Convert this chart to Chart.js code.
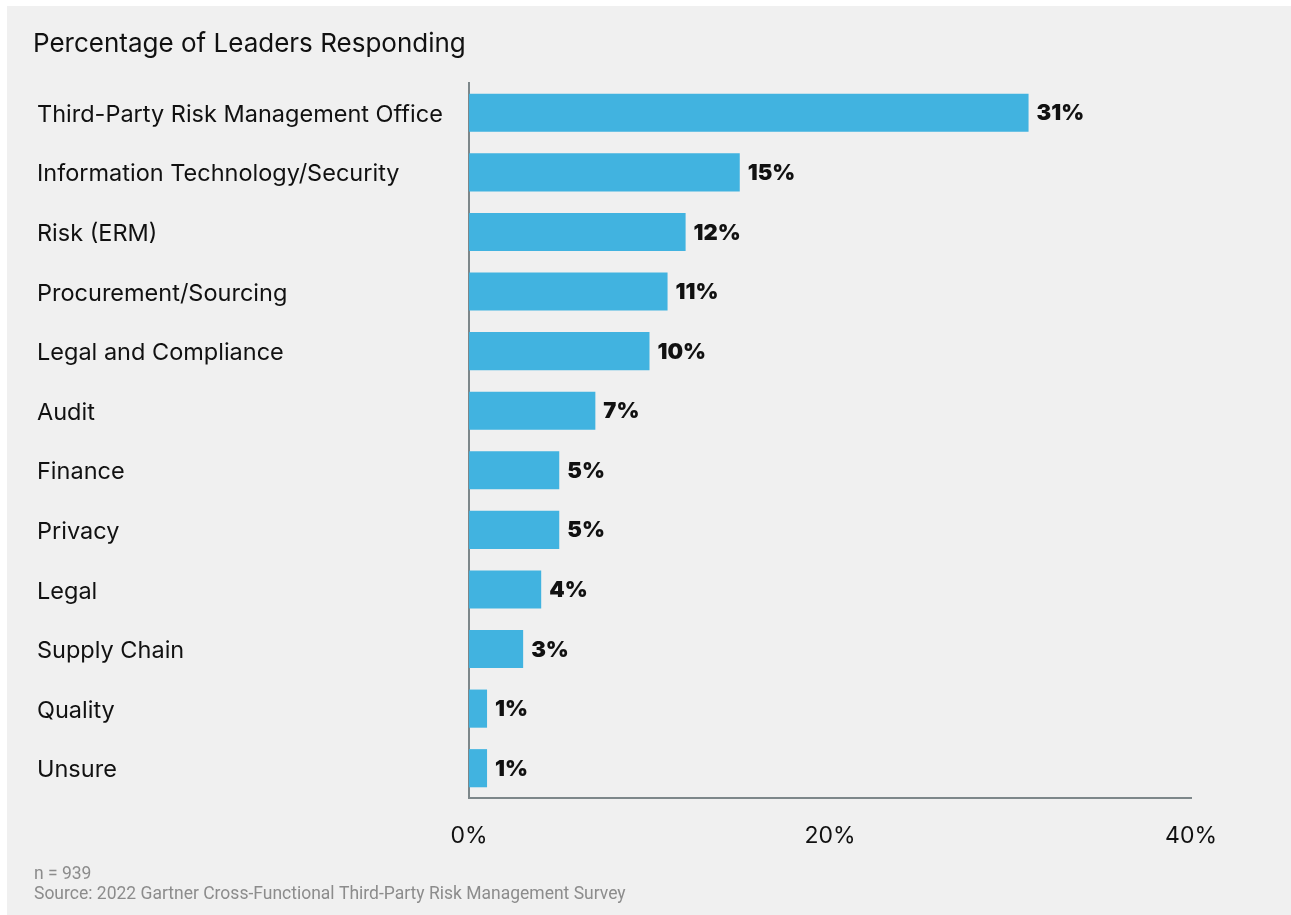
<!DOCTYPE html>
<html>
<head>
<meta charset="utf-8">
<script src="https://cdn.jsdelivr.net/npm/chart.js@4.4.1/dist/chart.umd.min.js"></script>
<style>
  html, body { margin: 0; padding: 0; background: #fff; }
  #panel { position: absolute; left: 7px; top: 6px; width: 1284px; height: 909px; background: #f0f0f0; }
  canvas { display: block; }
</style>
</head>
<body>
<div id="panel"><canvas id="chart" width="1284" height="909"></canvas></div>
<script>
const categories = [
  "Third-Party Risk Management Office",
  "Information Technology/Security",
  "Risk (ERM)",
  "Procurement/Sourcing",
  "Legal and Compliance",
  "Audit",
  "Finance",
  "Privacy",
  "Legal",
  "Supply Chain",
  "Quality",
  "Unsure"
];
const shares = [31, 15, 12, 11, 10, 7, 5, 5, 4, 3, 1, 1];
const xTicks = [0, 20, 40];
const titleText = "Percentage of Leaders Responding";
const footnotes = ["n = 939", "Source: 2022 Gartner Cross-Functional Third-Party Risk Management Survey"];

const FONT = "Inter, 'DejaVu Sans', sans-serif";
const BAR = "#41b3e0";
const AXIS = "#7d878a";

// heading above the plot and the notes underneath it
const textBlocks = {
  id: 'textBlocks',
  afterDraw(chart){
    const ctx = chart.ctx;
    ctx.save();
    ctx.fillStyle = '#111';
    ctx.textBaseline = 'middle';
    ctx.textAlign = 'left';
    ctx.font = `26px ${FONT}`;
    ctx.fillText(titleText, 26, 38);
    ctx.fillStyle = '#8c8c8c';
    ctx.font = `17.5px Roboto, sans-serif`;
    footnotes.forEach((t, i) => ctx.fillText(t, 27, 869 + i * 20));
    ctx.restore();
  }
};

// percentage printed just past the end of each bar
const valueLabels = {
  id: 'valueLabels',
  afterDatasetsDraw(chart){
    const ctx = chart.ctx;
    const meta = chart.getDatasetMeta(0);
    ctx.save();
    ctx.fillStyle = '#111';
    ctx.font = `900 22px ${FONT}`;
    ctx.textAlign = 'left';
    ctx.textBaseline = 'middle';
    meta.data.forEach((bar, i) => {
      ctx.fillText(shares[i] + '%', bar.x + 8, bar.y + 1);
    });
    ctx.restore();
  }
};

new Chart(document.getElementById('chart'), {
  type: 'bar',
  data: {
    labels: categories,
    datasets: [{
      data: shares,
      backgroundColor: BAR,
      borderWidth: 0,
      barPercentage: 0.64,
      categoryPercentage: 1
    }]
  },
  options: {
    indexAxis: 'y',
    responsive: false,
    animation: false,
    layout: { padding: { left: 30, right: 100, top: 77, bottom: 0 } },
    plugins: {
      legend: { display: false },
      tooltip: { enabled: false }
    },
    scales: {
      x: {
        min: 0,
        max: 40,
        afterBuildTicks(scale){ scale.ticks = xTicks.map(v => ({ value: v })); },
        afterFit(scale){ scale.height = 117; },
        grid: { display: false, drawTicks: false },
        border: { display: true, color: AXIS, width: 2 },
        ticks: {
          padding: 24,
          color: '#111',
          font: { family: FONT, size: 23 },
          callback: v => v + '%'
        }
      },
      y: {
        afterFit(scale){ scale.width = 462 - 30; },
        grid: { display: false, drawTicks: false },
        border: { display: true, color: AXIS, width: 2 },
        ticks: {
          crossAlign: 'far',
          labelOffset: 2,
          color: '#111',
          font: { family: FONT, size: 23.5 },
          autoSkip: false
        }
      }
    }
  },
  plugins: [textBlocks, valueLabels]
});
</script>
</body>
</html>
